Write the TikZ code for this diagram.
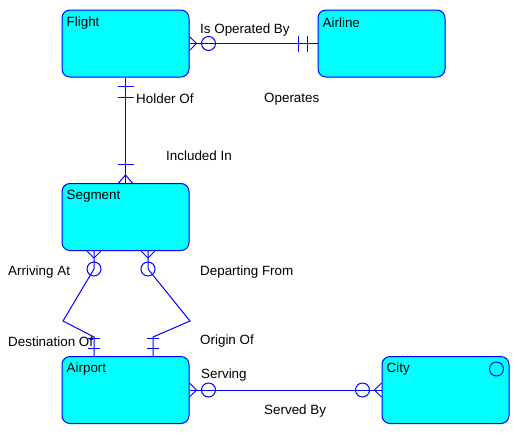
\documentclass[tikz,border=0pt]{standalone}
\usepackage{fontspec}
\setmainfont{Liberation Sans}
\usetikzlibrary{calc}

\definecolor{erfill}{RGB}{0,255,255}
\definecolor{erline}{RGB}{0,0,255}

\begin{document}
\begin{tikzpicture}[
    x=1pt, y=-1pt,
    entity/.style={draw=erline, fill=erfill, rounded corners=8pt, line width=1pt, minimum width=127pt, minimum height=67pt, inner sep=0pt},
    rel/.style={draw=erline, line width=1pt},
    ring/.style={draw=erline, circle, line width=1pt, minimum size=14pt, inner sep=0pt},
    txt/.style={anchor=west, inner sep=0pt, yshift=-1.5pt, font=\fontsize{13.4}{15}\selectfont}
]
\useasboundingbox (0,0) rectangle (518,434);

% entities
\node[entity] (flight)  at (125.5,43.5) {};
\node[entity] (airline) at (381.5,43.5) {};
\node[entity] (segment) at (125.5,217) {};
\node[entity] (airport) at (125.5,390) {};
\node[entity] (city)    at (445.5,390) {};

\node[txt] (flightname)  at ([shift={(5,12)}]flight.north west) {Flight};
\node[txt] (airlinename) at ([shift={(5,12)}]airline.north west) {Airline};
\node[txt] (segmentname) at ([shift={(5,12)}]segment.north west) {Segment};
\node[txt] (airportname) at ([shift={(5,12)}]airport.north west) {Airport};
\node[txt] (cityname)    at ([shift={(5,12)}]city.north west) {City};
\node[ring] (cityring) at ([shift={(-13,13)}]city.north east) {};

% Flight -- Airline
\draw[rel] (flight.east) -- (airline.west);
\draw[rel] ([shift={(0,-7)}]flight.east) -- ++(7,7) -- ++(-7,7);
\node[ring] (flightopt) at ([shift={(19,0)}]flight.east) {};
\draw[rel] ([shift={(-10,-8)}]airline.west) -- ++(0,16);
\draw[rel] ([shift={(-19,-8)}]airline.west) -- ++(0,16);
\node[txt] (isoperated) at (200,29) {Is Operated By};
\node[txt] (operates)   at (264,98) {Operates};

% Flight -- Segment
\draw[rel] (flight.south) -- (segment.north);
\draw[rel] ([shift={(-8,9)}]flight.south) -- ++(16,0);
\draw[rel] ([shift={(-8,20)}]flight.south) -- ++(16,0);
\draw[rel] ([shift={(-8,-19)}]segment.north) -- ++(16,0);
\draw[rel] ([shift={(-7,0)}]segment.north) -- ++(7,-8) -- ++(7,8);
\node[txt] (holderof)   at (136,97) {Holder Of};
\node[txt] (includedin) at (166,154) {Included In};

% Segment -- Airport (arriving)
\node[ring] (arrring) at (94,269) {};
\coordinate (arrbend) at (63,321);
\coordinate (arrbar) at (94,337);
\draw[rel] (segment.south -| arrring) -- (arrring.center) -- (arrbend) -- (arrbar) -- (airport.north -| arrbar);
\draw[rel] ([shift={(-7,0)}]segment.south -| arrring) -- ++(7,7) -- ++(7,-7);
\draw[rel] ([shift={(-6,1)}]arrbar) -- ++(12,0);
\draw[rel] ([shift={(-6,11)}]arrbar) -- ++(12,0);
\node[txt] (arrivingat)    at (8,271) {Arriving At};
\node[txt] (destinationof) at (8,340) {Destination Of};

% Segment -- Airport (departing)
\node[ring] (depring) at (148,269) {};
\coordinate (depbend) at (190,321);
\coordinate (depbar) at (153,337);
\draw[rel] (segment.south -| depring) -- (depring.center) -- (depbend) -- (depbar) -- (airport.north -| depbar);
\draw[rel] ([shift={(-7,0)}]segment.south -| depring) -- ++(7,7) -- ++(7,-7);
\draw[rel] ([shift={(-6,1)}]depbar) -- ++(12,0);
\draw[rel] ([shift={(-6,11)}]depbar) -- ++(12,0);
\node[txt] (departingfrom) at (200,271) {Departing From};
\node[txt] (originof)      at (200,340) {Origin Of};

% Airport -- City
\draw[rel] (airport.east) -- (city.west);
\draw[rel] ([shift={(0,-7)}]airport.east) -- ++(7,7) -- ++(-7,7);
\node[ring] (airportopt) at ([shift={(19,0)}]airport.east) {};
\draw[rel] ([shift={(0,-7)}]city.west) -- ++(-7,7) -- ++(7,7);
\node[ring] (cityopt) at ([shift={(-19,0)}]city.west) {};
\node[txt] (serving)  at (201,374) {Serving};
\node[txt] (servedby) at (264,410) {Served By};
\end{tikzpicture}
\end{document}
